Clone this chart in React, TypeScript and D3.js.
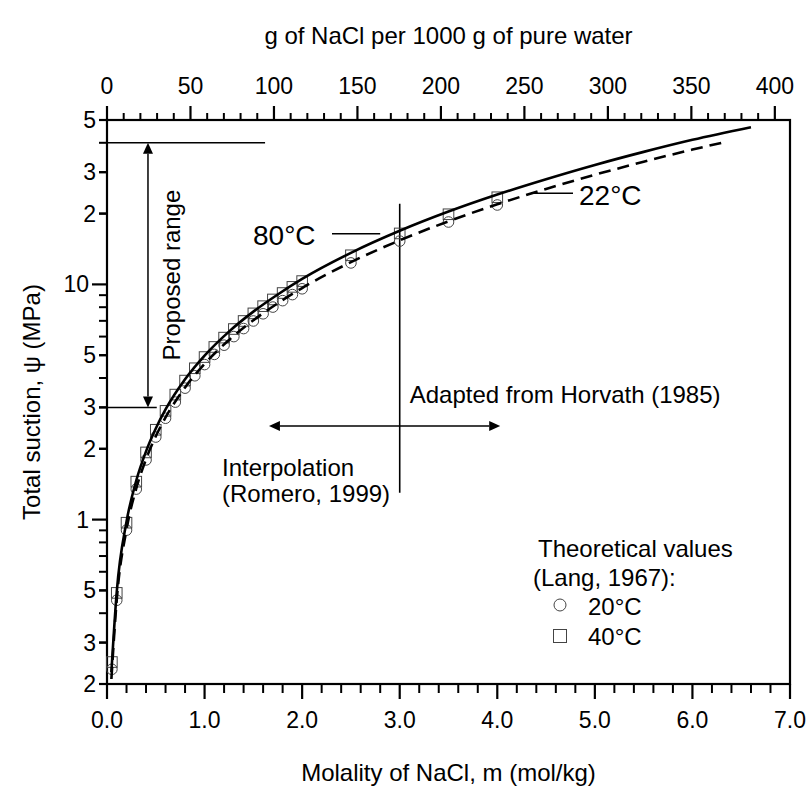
import React from 'react';
import * as d3 from 'd3';

// ---------- data ----------
const xTickValues = [0, 1, 2, 3, 4, 5, 6, 7];
const xTickLabels = ['0.0', '1.0', '2.0', '3.0', '4.0', '5.0', '6.0', '7.0'];
const topTickValues = [0, 50, 100, 150, 200, 250, 300, 350, 400];
const yTickValues = [0.2, 0.3, 0.5, 1, 2, 3, 5, 10, 20, 30, 50];
const yTickLabels = ['2', '3', '5', '1', '2', '3', '5', '10', '2', '3', '5'];
const gramsPerMol = 58.44;

// Lang (1967) theoretical values
const langM = [0.05, 0.1, 0.2, 0.3, 0.4, 0.5, 0.6, 0.7, 0.8, 0.9, 1.0, 1.1, 1.2, 1.3, 1.4, 1.5, 1.6, 1.7, 1.8, 1.9, 2.0, 2.5, 3.0, 3.5, 4.0];
const lang20Psi = [0.231, 0.454, 0.902, 1.348, 1.793, 2.244, 2.698, 3.159, 3.622, 4.088, 4.562, 5.04, 5.515, 6.0, 6.49, 6.99, 7.5, 8.01, 8.53, 9.05, 9.58, 12.34, 15.28, 18.42, 21.76];
const lang40Psi = [0.248, 0.488, 0.97, 1.45, 1.93, 2.41, 2.9, 3.4, 3.9, 4.4, 4.91, 5.42, 5.94, 6.46, 6.99, 7.53, 8.08, 8.63, 9.19, 9.76, 10.33, 13.3, 16.47, 19.87, 23.47];

// curves
const curve22M = [0.045, 0.1, 0.2, 0.3, 0.4, 0.5, 0.6, 0.8, 1.0, 1.25, 1.5, 1.75, 2.0, 2.5, 3.0, 3.5, 4.0, 4.5, 5.0, 5.5, 6.0, 6.3];
const curve22Psi = [0.21, 0.457, 0.908, 1.357, 1.806, 2.26, 2.718, 3.648, 4.594, 5.8, 7.04, 8.31, 9.65, 12.43, 15.39, 18.55, 21.91, 25.47, 29.25, 33.23, 37.43, 40.0];
const curve80M = [0.045, 0.1, 0.2, 0.3, 0.4, 0.5, 0.6, 0.8, 1.0, 1.25, 1.5, 1.75, 2.0, 2.5, 3.0, 3.5, 4.0, 4.5, 5.0, 5.5, 6.0, 6.6];
const curve80Psi = [0.225, 0.493, 0.98, 1.466, 1.95, 2.44, 2.94, 3.95, 4.98, 6.3, 7.66, 9.06, 10.55, 13.62, 16.9, 20.4, 24.1, 28.0, 32.2, 36.6, 41.2, 46.6];

// annotations (data coordinates)
const proposedRange = [3, 40];
const proposedArrowM = 0.42;
const proposedTopLineEnd = 1.62;
const proposedBottomLineEnd = 0.51;
const horvathLineM = 3.0;
const horvathLinePsi = [1.3, 22];
const interpArrowM = [1.66, 4.03];
const interpArrowPsi = 2.5;
const label80M = 2.8;
const label22M = 4.36;

// ---------- layout ----------
const W = 808, H = 791;
const L = 107, R = 790, T = 120, B = 684;
const FONT = '"Liberation Sans", Arial, Helvetica, sans-serif';
const FS = 23;
const FA = 24;

export default function App() {
  const x = d3.scaleLinear().domain([0, 7]).range([L, R]);
  const y = d3.scaleLog().domain([0.2, 50]).range([B, T]);
  const xg = d3.scaleLinear().domain([0, 7 * gramsPerMol]).range([L, R]);

  const line = d3.line<[number, number]>().x(d => x(d[0])).y(d => y(d[1])).curve(d3.curveMonotoneX);
  const path22 = line(curve22M.map((m, i) => [m, curve22Psi[i]]));
  const path80 = line(curve80M.map((m, i) => [m, curve80Psi[i]]));

  const xMinor = d3.range(0, 7.0001, 0.2).filter(v => Math.abs(v - Math.round(v)) > 1e-6);
  const topMinor = d3.range(0, 401, 10).filter(v => v % 50 !== 0);
  const yMinor: number[] = [];
  for (let v = 0.2; v < 0.95; v += 0.1) yMinor.push(+v.toFixed(1));
  for (let v = 2; v <= 9; v++) yMinor.push(v);
  for (let v = 20; v <= 50; v += 10) yMinor.push(v);

  const ax = x(proposedArrowM);
  const yTop = y(proposedRange[1]);
  const yBot = y(proposedRange[0]);
  const hy = y(interpArrowPsi);
  const hx1 = x(interpArrowM[0]);
  const hx2 = x(interpArrowM[1]);
  const ah = 11, aw = 5;
  const y80 = y(16.4);
  const y22 = y(24.4);

  return (
    <svg width={W} height={H} style={{ position: 'absolute', left: 0, top: 0, background: '#fff' }} fontFamily={FONT}>
      <rect x={0} y={0} width={W} height={H} fill="#fff" />
      {/* titles */}
      <text x={(L + R) / 2} y={35} textAnchor="middle" dominantBaseline="central" fontSize={FA}>g of NaCl per 1000 g of pure water</text>
      <text x={(L + R) / 2} y={772} textAnchor="middle" dominantBaseline="central" fontSize={FA}>Molality of NaCl, m (mol/kg)</text>
      <text transform={`translate(31,${(T + B) / 2}) rotate(-90)`} textAnchor="middle" dominantBaseline="central" fontSize={FA}>Total suction, ψ (MPa)</text>

      {/* frame */}
      <rect x={L} y={T} width={R - L} height={B - T} fill="none" stroke="#000" strokeWidth={2.2} />

      {/* bottom axis */}
      {xTickValues.map((v, i) => (
        <g key={'xb' + v}>
          <line x1={x(v)} x2={x(v)} y1={B} y2={B + 15} stroke="#000" strokeWidth={2.2} />
          <text x={x(v)} y={720} textAnchor="middle" dominantBaseline="central" fontSize={FS}>{xTickLabels[i]}</text>
        </g>
      ))}
      {xMinor.map(v => <line key={'xm' + v} x1={x(v)} x2={x(v)} y1={B} y2={B + 9} stroke="#000" strokeWidth={2} />)}

      {/* top axis */}
      {topTickValues.map(v => (
        <g key={'xt' + v}>
          <line x1={xg(v)} x2={xg(v)} y1={T} y2={T - 14} stroke="#000" strokeWidth={2.2} />
          <text x={xg(v)} y={86} textAnchor="middle" dominantBaseline="central" fontSize={FS}>{v}</text>
        </g>
      ))}
      {topMinor.map(v => <line key={'tm' + v} x1={xg(v)} x2={xg(v)} y1={T} y2={T - 7} stroke="#000" strokeWidth={2} />)}

      {/* left axis */}
      {yMinor.map(v => <line key={'ym' + v} x1={L - 8} x2={L} y1={y(v)} y2={y(v)} stroke="#000" strokeWidth={2} />)}
      {yTickValues.map((v, i) => {
        const major = v === 1 || v === 10;
        const len = major ? 15 : 8;
        return (
          <g key={'yt' + v}>
            <line x1={L - len} x2={L} y1={y(v)} y2={y(v)} stroke="#000" strokeWidth={2.2} />
            <text x={L - len - 3} y={y(v)} textAnchor="end" dominantBaseline="central" fontSize={FS}>{yTickLabels[i]}</text>
          </g>
        );
      })}

      {/* proposed range */}
      <line x1={L} x2={x(proposedTopLineEnd)} y1={yTop} y2={yTop} stroke="#000" strokeWidth={1.5} />
      <line x1={L} x2={x(proposedBottomLineEnd)} y1={yBot} y2={yBot} stroke="#000" strokeWidth={1.5} />
      <line x1={ax} x2={ax} y1={yTop + ah} y2={yBot - ah} stroke="#000" strokeWidth={1.5} />
      <path d={`M${ax},${yTop}L${ax - aw},${yTop + ah}L${ax + aw},${yTop + ah}Z`} fill="#000" />
      <path d={`M${ax},${yBot}L${ax - aw},${yBot - ah}L${ax + aw},${yBot - ah}Z`} fill="#000" />
      <text transform={`translate(${ax + 24},${(yTop + yBot) / 2}) rotate(-90)`} textAnchor="middle" dominantBaseline="central" fontSize={FA}>Proposed range</text>

      {/* Horvath line and interpolation arrow */}
      <line x1={x(horvathLineM)} x2={x(horvathLineM)} y1={y(horvathLinePsi[0])} y2={y(horvathLinePsi[1])} stroke="#000" strokeWidth={1.6} />
      <line x1={hx1 + ah} x2={hx2 - ah} y1={hy} y2={hy} stroke="#000" strokeWidth={1.5} />
      <path d={`M${hx1},${hy}L${hx1 + ah},${hy - aw}L${hx1 + ah},${hy + aw}Z`} fill="#000" />
      <path d={`M${hx2},${hy}L${hx2 - ah},${hy - aw}L${hx2 - ah},${hy + aw}Z`} fill="#000" />
      <text x={x(horvathLineM) + 10} y={hy - 32} dominantBaseline="central" fontSize={FA}>Adapted from Horvath (1985)</text>
      <text x={222} y={hy + 41} dominantBaseline="central" fontSize={FA}>Interpolation</text>
      <text x={222} y={hy + 67} dominantBaseline="central" fontSize={FA}>(Romero, 1999)</text>

      {/* data points */}
      {langM.map((m, i) => (
        <circle key={'c' + m} cx={x(m)} cy={y(lang20Psi[i])} r={5.3} fill="none" stroke="#444" strokeWidth={1} />
      ))}
      {langM.map((m, i) => (
        <rect key={'s' + m} x={x(m) - 5.3} y={y(lang40Psi[i]) - 5.3} width={10.6} height={10.6} fill="none" stroke="#444" strokeWidth={1} />
      ))}

      {/* curves */}
      <path d={path80 || ''} fill="none" stroke="#000" strokeWidth={2.6} />
      <path d={path22 || ''} fill="none" stroke="#000" strokeWidth={2.6} strokeDasharray="12,7" />

      {/* curve labels */}
      <line x1={332} x2={x(label80M)} y1={y80} y2={y80} stroke="#000" strokeWidth={1.5} />
      <text x={253} y={y80 + 2} dominantBaseline="central" fontSize={28}>80°C</text>
      <line x1={x(label22M)} x2={573} y1={y22} y2={y22} stroke="#000" strokeWidth={1.5} />
      <text x={579} y={y22 + 2} dominantBaseline="central" fontSize={28}>22°C</text>

      {/* legend */}
      <text x={538} y={548} dominantBaseline="central" fontSize={FA}>Theoretical values</text>
      <text x={533} y={577} dominantBaseline="central" fontSize={FA}>(Lang, 1967):</text>
      <circle cx={560} cy={605} r={6} fill="none" stroke="#444" strokeWidth={1} />
      <text x={588} y={606} dominantBaseline="central" fontSize={FA}>20°C</text>
      <rect x={553.5} y={629.5} width={13} height={13} fill="none" stroke="#444" strokeWidth={1} />
      <text x={588} y={636} dominantBaseline="central" fontSize={FA}>40°C</text>
    </svg>
  );
}
